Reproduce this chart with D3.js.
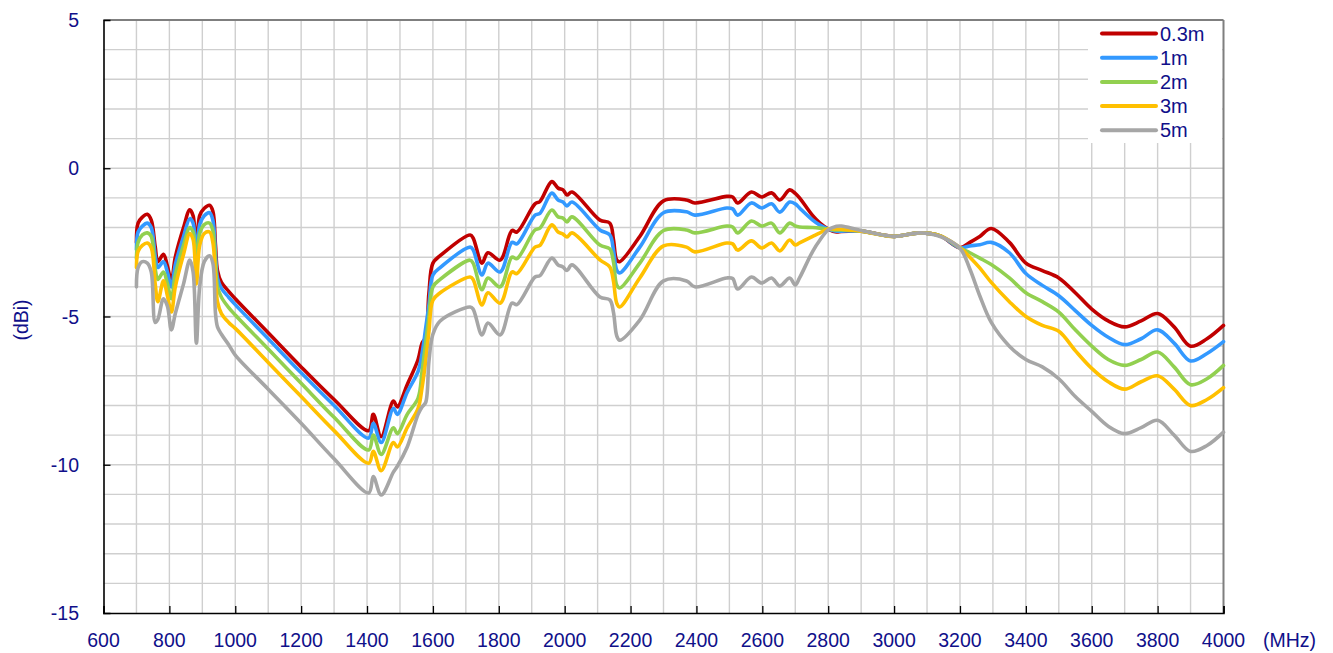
<!DOCTYPE html>
<html>
<head>
<meta charset="utf-8">
<script src="https://cdn.jsdelivr.net/npm/d3@7/dist/d3.min.js"></script>
<style>
  html, body { margin: 0; padding: 0; background: #fff; }
  svg { display: block; font-family: "Liberation Sans", Arial, sans-serif; }
</style>
</head>
<body>
<svg id="chart" width="1333" height="653"></svg>
<script>
// Frequency points (MHz) shared by all cable lengths
const freqs = [700, 705, 718, 733, 745, 757, 765, 782, 794, 806, 818, 843, 862, 872, 882, 892, 906, 922, 932, 940, 946, 958, 980, 1000,
  1100, 1200, 1300, 1405, 1419, 1443, 1480, 1492, 1522, 1555, 1567, 1578, 1588, 1600, 1622, 1713, 1722, 1749, 1767, 1804, 1840, 1855,
  1910, 1925, 1961, 1980, 1995, 2007, 2022, 2107, 2137, 2148, 2158, 2167, 2228, 2300, 2370, 2395, 2492, 2510, 2525, 2567, 2598, 2628,
  2653, 2683, 2700, 2713, 2753, 2775, 2800, 2825, 2840, 2900, 3000, 3077, 3140, 3200, 3230, 3260, 3295, 3350, 3400, 3450, 3500, 3550,
  3600, 3650, 3700, 3750, 3800, 3850, 3900, 3950, 4000];

// Gain (dBi) per cable length
const gain03m = [-2.5, -1.85, -1.65, -1.55, -1.75, -2.65, -3.15, -2.9, -3.3, -3.8, -3.0, -2.0, -1.4, -1.6, -2.9, -1.6, -1.35, -1.25, -1.45, -2.6, -3.45, -3.85, -4.15, -4.4,
  -5.55, -6.7, -7.8, -8.85, -8.3, -9.05, -7.85, -8.05, -7.3, -6.45, -5.9, -5.7, -4.2, -3.2, -2.95, -2.25, -2.35, -3.2, -2.85, -3.1, -2.1, -2.15,
  -1.2, -1.12, -0.45, -0.67, -0.73, -0.9, -0.8, -1.75, -1.85, -2.4, -3.1, -3.15, -2.3, -1.1, -1.07, -1.17, -0.95, -0.97, -1.17, -0.8, -0.97, -0.83,
  -1.07, -0.73, -0.85, -1.0, -1.6, -1.85, -2.05, -2.15, -2.13, -2.12, -2.3, -2.18, -2.28, -2.68, -2.5, -2.3, -2.03, -2.5, -3.2, -3.45, -3.7, -4.2,
  -4.75, -5.15, -5.35, -5.15, -4.9, -5.35, -6.0, -5.75, -5.3];

const gain1m = [-2.75, -2.15, -1.95, -1.85, -2.0, -2.95, -3.35, -3.15, -3.5, -4.0, -3.25, -2.3, -1.7, -1.85, -3.15, -1.9, -1.6, -1.5, -1.75, -2.9, -3.7, -4.05, -4.35, -4.6,
  -5.75, -6.9, -8.0, -9.1, -8.6, -9.25, -8.1, -8.3, -7.55, -6.85, -6.25, -5.4, -4.6, -3.6, -3.35, -2.66, -2.75, -3.6, -3.2, -3.5, -2.5, -2.55,
  -1.58, -1.52, -0.84, -1.07, -1.14, -1.27, -1.14, -2.08, -2.25, -2.75, -3.43, -3.53, -2.66, -1.5, -1.47, -1.58, -1.34, -1.37, -1.58, -1.17, -1.34, -1.2,
  -1.48, -1.14, -1.2, -1.34, -1.75, -1.92, -2.05, -2.12, -2.12, -2.12, -2.3, -2.18, -2.28, -2.68, -2.62, -2.58, -2.5, -2.85, -3.55, -3.95, -4.3, -4.8,
  -5.3, -5.7, -5.95, -5.75, -5.45, -5.9, -6.5, -6.25, -5.85];

const gain2m = [-3.05, -2.5, -2.25, -2.18, -2.3, -3.4, -3.75, -3.5, -3.9, -4.4, -3.6, -2.6, -2.0, -2.15, -3.5, -2.2, -1.9, -1.85, -2.1, -3.2, -4.0, -4.35, -4.7, -4.95,
  -6.1, -7.25, -8.4, -9.5, -9.0, -9.65, -8.75, -8.95, -8.3, -7.75, -6.85, -5.9, -5.0, -4.0, -3.75, -3.1, -3.2, -4.1, -3.7, -4.0, -3.0, -3.05,
  -2.08, -2.02, -1.41, -1.64, -1.68, -1.81, -1.64, -2.59, -2.72, -3.15, -3.94, -4.04, -3.2, -2.1, -2.08, -2.18, -1.95, -1.98, -2.18, -1.78, -1.95, -1.85,
  -2.18, -1.85, -1.95, -1.98, -2.0, -2.02, -2.05, -2.08, -2.08, -2.12, -2.3, -2.18, -2.28, -2.68, -2.85, -3.03, -3.25, -3.7, -4.2, -4.5, -4.85, -5.45,
  -6.0, -6.45, -6.65, -6.45, -6.2, -6.7, -7.3, -7.1, -6.65];

const gain3m = [-3.35, -2.8, -2.6, -2.52, -2.68, -3.9, -4.5, -3.8, -4.3, -4.85, -4.0, -2.9, -2.2, -2.4, -3.9, -2.6, -2.2, -2.15, -2.5, -3.7, -4.5, -4.9, -5.2, -5.4,
  -6.55, -7.7, -8.85, -9.95, -9.55, -10.2, -9.25, -9.4, -8.75, -8.1, -7.4, -6.5, -5.5, -4.45, -4.2, -3.67, -3.75, -4.61, -4.2, -4.55, -3.5, -3.55,
  -2.66, -2.6, -1.91, -2.15, -2.22, -2.32, -2.18, -3.09, -3.33, -3.8, -4.55, -4.68, -3.7, -2.62, -2.66, -2.82, -2.52, -2.55, -2.76, -2.45, -2.69, -2.52,
  -2.79, -2.42, -2.59, -2.52, -2.3, -2.18, -2.05, -2.05, -2.06, -2.12, -2.3, -2.18, -2.28, -2.68, -3.0, -3.36, -3.85, -4.5, -5.0, -5.3, -5.5, -6.15,
  -6.75, -7.2, -7.45, -7.2, -7.0, -7.45, -8.0, -7.8, -7.4];

const gain5m = [-4.0, -3.35, -3.15, -3.2, -3.5, -5.2, -5.1, -4.4, -4.65, -5.45, -4.9, -3.9, -3.1, -3.5, -5.9, -4.0, -3.15, -2.95, -3.2, -4.9, -5.35, -5.6, -5.95, -6.3,
  -7.45, -8.6, -9.8, -10.95, -10.4, -11.02, -10.25, -10.05, -9.4, -8.3, -8.05, -7.9, -6.5, -5.6, -5.15, -4.68, -4.75, -5.62, -5.22, -5.62, -4.55, -4.6,
  -3.67, -3.62, -3.03, -3.26, -3.33, -3.45, -3.26, -4.34, -4.44, -4.85, -5.65, -5.8, -5.12, -3.8, -3.8, -4.0, -3.7, -3.72, -4.07, -3.67, -3.87, -3.7,
  -3.97, -3.7, -3.94, -3.7, -2.8, -2.42, -2.08, -1.96, -1.95, -2.1, -2.3, -2.18, -2.3, -2.7, -3.4, -4.3, -5.2, -6.0, -6.45, -6.7, -7.1, -7.7,
  -8.2, -8.7, -8.95, -8.75, -8.5, -9.0, -9.55, -9.35, -8.9];

const seriesNames = ["0.3m", "1m", "2m", "3m", "5m"];
const seriesColors = ["#C00000", "#3399FF", "#92D050", "#FFC000", "#A6A6A6"];
const seriesValues = [gain03m, gain1m, gain2m, gain3m, gain5m];

const xTicks = d3.range(600, 4001, 200);
const yTicks = [5, 0, -5, -10, -15];

const svg = d3.select("#chart");
const plotLeft = 103.5, plotRight = 1223.5, plotTop = 20, plotBottom = 613;

const x = d3.scaleLinear().domain([600, 4000]).range([plotLeft, plotRight]);
const y = d3.scaleLinear().domain([-15, 5]).range([plotBottom, plotTop]);

const textColor = "#10108A";

// grid
const grid = svg.append("g");
grid.selectAll("line.h").data(d3.range(-14, 5, 1)).join("line")
  .attr("class", "h")
  .attr("x1", plotLeft).attr("x2", plotRight)
  .attr("y1", d => y(d)).attr("y2", d => y(d))
  .attr("stroke", "#cfcfcf").attr("stroke-width", 1.4);
grid.selectAll("line.v").data(d3.range(700, 4000, 100)).join("line")
  .attr("class", "v")
  .attr("y1", plotTop).attr("y2", plotBottom)
  .attr("x1", d => x(d)).attr("x2", d => x(d))
  .attr("stroke", "#cfcfcf").attr("stroke-width", 1.4);

// frame: top and right in grey
svg.append("line").attr("x1", plotLeft).attr("x2", plotRight).attr("y1", plotTop).attr("y2", plotTop)
  .attr("stroke", "#7f7f7f").attr("stroke-width", 2);
svg.append("line").attr("x1", plotRight).attr("x2", plotRight).attr("y1", plotTop).attr("y2", plotBottom)
  .attr("stroke", "#7f7f7f").attr("stroke-width", 2);

// curves
const line = d3.line()
  .x((d, i) => x(freqs[i]))
  .y(d => y(d))
  .curve(d3.curveCatmullRom.alpha(0.5));

const curves = svg.append("g");
seriesValues.forEach((vals, k) => {
  curves.append("path")
    .attr("d", line(vals))
    .attr("fill", "none")
    .attr("stroke", seriesColors[k])
    .attr("stroke-width", 3.6)
    .attr("stroke-linejoin", "round")
    .attr("stroke-linecap", "round");
});

// axes (ticks pointing into the plot)
const xAxis = d3.axisBottom(x).tickValues(xTicks).tickSize(-7).tickFormat("");
const yAxis = d3.axisLeft(y).tickValues(yTicks).tickSize(-7).tickFormat("");
const gx = svg.append("g").attr("transform", `translate(0,${plotBottom})`).call(xAxis);
const gy = svg.append("g").attr("transform", `translate(${plotLeft},0)`).call(yAxis);
[gx, gy].forEach(g => {
  g.select(".domain").attr("stroke", "#000").attr("stroke-width", 1.6);
  g.selectAll(".tick line").attr("stroke", "#000").attr("stroke-width", 1.3);
});
gy.selectAll(".tick").filter(d => d === 5 || d === -15).select("line").remove();

// tick labels
svg.append("g").selectAll("text").data(xTicks).join("text")
  .attr("x", d => x(d)).attr("y", 647)
  .attr("text-anchor", "middle")
  .attr("font-size", 19.5).attr("fill", textColor)
  .text(d => d);
svg.append("g").selectAll("text").data(yTicks).join("text")
  .attr("x", 79).attr("y", d => y(d) + 7)
  .attr("text-anchor", "end")
  .attr("font-size", 19.5).attr("fill", textColor)
  .text(d => d);

svg.append("text").attr("x", 1263).attr("y", 647)
  .attr("font-size", 19.5).attr("fill", textColor).text("(MHz)");
svg.append("text")
  .attr("transform", "translate(28,320) rotate(-90)")
  .attr("text-anchor", "middle")
  .attr("font-size", 19.5).attr("fill", textColor).text("(dBi)");

// legend
const legend = svg.append("g");
legend.append("rect").attr("x", 1088).attr("y", 21).attr("width", 134).attr("height", 122).attr("fill", "#fff");
seriesNames.forEach((name, k) => {
  const ly = 33.5 + k * 24.2;
  legend.append("line").attr("x1", 1102).attr("x2", 1156).attr("y1", ly).attr("y2", ly)
    .attr("stroke", seriesColors[k]).attr("stroke-width", 4).attr("stroke-linecap", "round");
  legend.append("text").attr("x", 1160).attr("y", ly + 7)
    .attr("font-size", 20).attr("fill", textColor).text(name);
});
</script>
</body>
</html>
